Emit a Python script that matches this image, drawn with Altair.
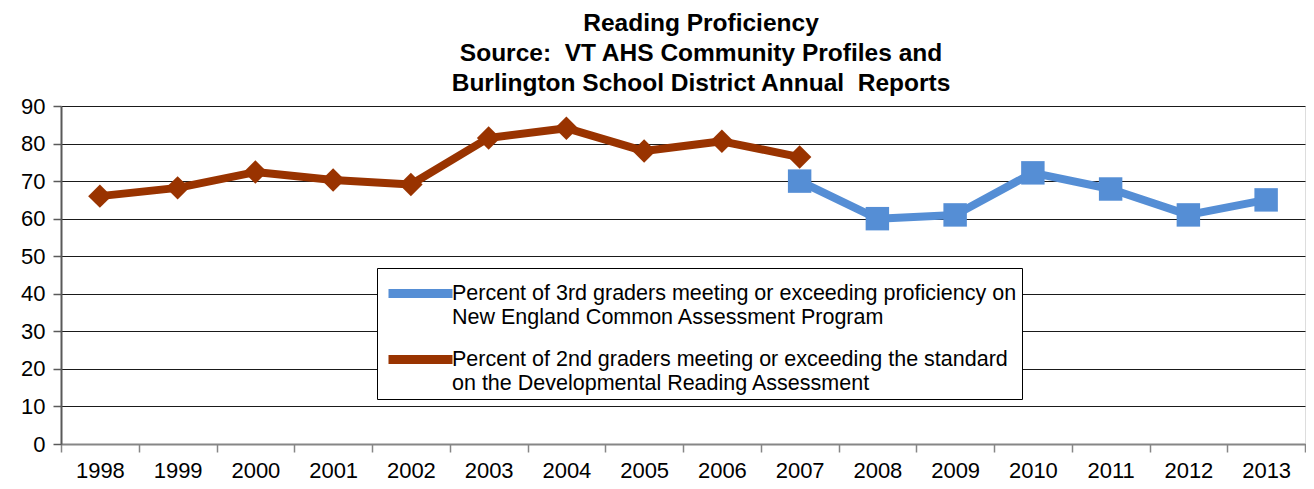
import altair as alt
import pandas as pd

# ---- data ----
dra_years = ["1998", "1999", "2000", "2001", "2002", "2003", "2004", "2005", "2006", "2007"]
dra_values = [66.0, 68.2, 72.4, 70.3, 69.1, 81.5, 84.1, 78.0, 80.6, 76.4]

necap_years = ["2007", "2008", "2009", "2010", "2011", "2012", "2013"]
necap_values = [70.0, 60.0, 61.0, 72.2, 67.9, 61.0, 65.0]

all_years = ["1998", "1999", "2000", "2001", "2002", "2003", "2004", "2005",
             "2006", "2007", "2008", "2009", "2010", "2011", "2012", "2013"]
y_ticks = [0, 10, 20, 30, 40, 50, 60, 70, 80, 90]

necap_name = ("Percent of 3rd graders meeting or exceeding proficiency on\n"
              "New England Common Assessment Program")
dra_name = ("Percent of 2nd graders meeting or exceeding the standard\n"
            "on the Developmental Reading Assessment")
series_names = [necap_name, dra_name]
series_colors = ["#558ED5", "#993300"]
series_shapes = ["square", "diamond"]

title_lines = ["Reading Proficiency",
               "Source:\u00a0 VT AHS Community Profiles and",
               "Burlington School District Annual\u00a0 Reports"]

rows = []
for yr, v in zip(necap_years, necap_values):
    rows.append({"year": yr, "value": v, "series": necap_name})
for yr, v in zip(dra_years, dra_values):
    rows.append({"year": yr, "value": v, "series": dra_name})
df = pd.DataFrame(rows)

FONT = "Liberation Sans"

x_enc = alt.X(
    "year:O",
    sort=all_years,
    bandPosition=0.5,
    scale=alt.Scale(type="band", domain=all_years, paddingInner=0, paddingOuter=0),
    axis=alt.Axis(title=None, labelAngle=0, tickBand="extent", tickSize=8,
                  labelFontSize=22, labelFont=FONT, labelColor="black",
                  labelPadding=8, domainColor="#868686", domainWidth=2,
                  tickColor="#868686", tickWidth=1.5, grid=False),
)
y_enc = alt.Y(
    "value:Q",
    scale=alt.Scale(domain=[0, 90], nice=False, zero=True),
    axis=alt.Axis(title=None, values=y_ticks, tickSize=8, labelFontSize=22,
                  labelFont=FONT, labelColor="black", labelPadding=8,
                  domainColor="#595959", domainWidth=2, tickColor="#595959",
                  tickWidth=1.5, grid=True, gridColor="#1a1a1a", gridWidth=1),
)

color_scale = alt.Scale(domain=series_names, range=series_colors)
legend = alt.Legend(
    title=None, orient="none", legendX=316, legendY=162, direction="vertical",
    padding=5, strokeColor="black", fillColor="white",
    symbolType="M-0.875,0H3.125", symbolSize=1024, symbolStrokeWidth=9,
    labelFontSize=21.5, labelFont=FONT, labelColor="black", labelOffset=29,
    labelLimit=0, rowPadding=11, labelBaseline="middle",
    labelExpr="split(datum.label, '\\n')",
)

lines = alt.Chart(df).mark_line(strokeWidth=8, strokeJoin="round", strokeCap="round").encode(
    x=x_enc,
    y=y_enc,
    color=alt.Color("series:N", scale=color_scale, sort=series_names, legend=legend),
    detail="series:N",
)

point_layers = []
for name, col, shp in zip(series_names, series_colors, series_shapes):
    point_layers.append(
        alt.Chart(df).transform_filter(alt.datum.series == name)
        .mark_point(filled=True, opacity=1, size=550, shape=shp, color=col)
        .encode(x=x_enc, y=y_enc)
    )

chart = alt.layer(lines, *point_layers).properties(
    width=1244,
    height=338,
    autosize=alt.AutoSizeParams(type="none"),
    padding={"left": 53, "top": 98, "right": 1, "bottom": 42},
    title=alt.TitleParams(
        text=title_lines, font=FONT, fontSize=24.5, fontWeight="bold", color="black",
        lineHeight=30, anchor="middle", dx=18, offset=-1,
    ),
).configure_view(
    stroke="#868686", strokeWidth=2
).configure(
    style={"guide-label": {"lineHeight": 24}}
)

chart.save("out.html", embed_options={"renderer": "svg", "actions": False})
